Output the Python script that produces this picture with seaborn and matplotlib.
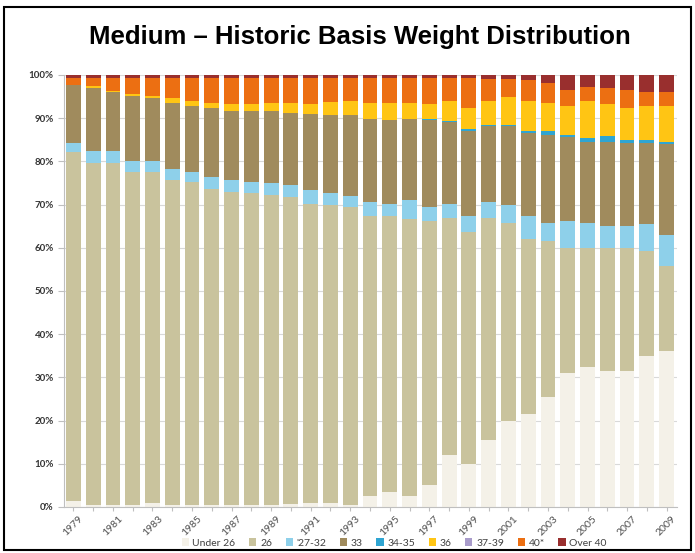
import numpy as np
import matplotlib
matplotlib.use("Agg")
import matplotlib.pyplot as plt
from matplotlib.patches import Patch, Rectangle
import seaborn as sns

# Production years
years = ["1979", "1980", "1981", "1982", "1983", "1984", "1985", "1986",
         "1987", "1988", "1989", "1990", "1991", "1992", "1993", "1994",
         "1995", "1996", "1997", "1998", "1999", "2000", "2001", "2002",
         "2003", "2004", "2005", "2006", "2007", "2008", "2009"]

# Share of production (%) by basis weight class
under_26 = [1.5, 0.5, 0.5, 0.5, 1.0, 0.5, 0.5, 0.5, 0.5, 0.5, 0.5, 0.8, 1.0, 1.0, 0.5, 2.5,
            3.5, 2.5, 5.0, 12.0, 10.0, 15.5, 20.0, 21.5, 25.5, 31.0, 32.5, 31.5, 31.5, 35.0, 36.0]
bw_26 = [80.6, 79.2, 79.2, 77.1, 76.5, 75.1, 74.7, 73.2, 72.4, 72.2, 71.8, 70.9, 69.2, 68.8, 68.9, 64.9,
         63.9, 64.1, 61.1, 55.0, 53.7, 51.5, 45.7, 40.5, 36.1, 29.0, 27.5, 28.5, 28.5, 24.2, 19.9]
bw_27_32 = [2.1, 2.8, 2.7, 2.6, 2.7, 2.7, 2.4, 2.7, 2.7, 2.6, 2.7, 2.8, 3.2, 2.9, 2.5, 3.3,
            2.8, 4.5, 3.3, 3.2, 3.7, 3.7, 4.1, 5.4, 4.1, 6.2, 5.8, 5.0, 5.0, 6.2, 7.0]
bw_33 = [13.5, 14.4, 13.7, 15.0, 14.5, 15.3, 15.2, 16.0, 16.1, 16.4, 16.6, 16.6, 17.5, 18.0, 18.8, 19.2,
         19.3, 18.8, 20.1, 18.9, 19.6, 17.6, 18.5, 19.2, 20.5, 19.5, 18.8, 19.6, 19.2, 18.8, 21.1]
bw_34_35 = [0.0, 0.0, 0.0, 0.0, 0.0, 0.0, 0.0, 0.0, 0.0, 0.0, 0.0, 0.0, 0.0, 0.0, 0.0, 0.0,
            0.0, 0.0, 0.3, 0.2, 0.5, 0.2, 0.2, 0.4, 0.8, 0.5, 0.8, 1.2, 0.8, 0.8, 0.6]
bw_36 = [0.0, 0.5, 0.3, 0.5, 0.5, 1.0, 1.2, 1.2, 1.6, 1.7, 1.9, 2.5, 2.5, 3.1, 3.3, 3.7,
         4.1, 3.7, 3.4, 4.7, 4.9, 5.5, 6.3, 7.0, 6.6, 6.6, 8.6, 7.4, 7.4, 7.8, 8.2]
bw_37_39 = [0.0] * 31
bw_40 = [1.6, 1.9, 2.9, 3.6, 4.1, 4.7, 5.3, 5.7, 6.0, 5.9, 5.8, 5.7, 5.9, 5.5, 5.3, 5.6,
         5.6, 5.6, 6.0, 5.2, 6.8, 5.0, 4.2, 4.8, 4.5, 3.7, 3.3, 3.7, 4.1, 3.3, 3.3]
over_40 = [0.7, 0.7, 0.7, 0.7, 0.7, 0.7, 0.7, 0.7, 0.7, 0.7, 0.7, 0.7, 0.7, 0.7, 0.7, 0.8,
           0.8, 0.8, 0.8, 0.8, 0.8, 1.0, 1.0, 1.2, 1.9, 3.5, 2.7, 3.1, 3.5, 3.9, 3.9]

labels = ["Under 26", "26", "'27-32", "33", "34-35", "36", "37-39", "40*", "Over 40"]
colors = ["#F4F1E8", "#C9C39D", "#8ED0EA", "#A08B5D", "#2FA5D2",
          "#FFC514", "#A99CCB", "#EC6F12", "#992F2E"]
values = [under_26, bw_26, bw_27_32, bw_33, bw_34_35, bw_36, bw_37_39, bw_40, over_40]

sns.set_theme(style="white")
plt.rcParams["font.family"] = ["Lato", "DejaVu Sans"]

fig = plt.figure(figsize=(6.95, 5.53), dpi=100)
ax = fig.add_axes([63.5 / 695, 46 / 553, 613 / 695, 432 / 553])

# Stack: draw cumulative totals from the top class down so each layer shows its share
tops = np.cumsum(np.array(values), axis=0)
for top, color in reversed(list(zip(tops, colors))):
    sns.barplot(x=years, y=top, color=color, width=0.75, saturation=1,
                linewidth=0, ax=ax, zorder=2)

ax.set_xlim(-0.5, len(years) - 0.5)
ax.set_ylim(0, 100)
ax.set_axisbelow(True)
ax.yaxis.grid(True, color="#D9D9D9", lw=0.8)
ax.xaxis.grid(False)

ax.set_yticks(np.arange(0, 101, 10))
ax.set_yticklabels([f"{v}%" for v in range(0, 101, 10)], fontsize=7,
                   fontweight="bold", color="#333333")
ax.set_xticks(range(len(years)))
ax.set_xticklabels([y if i % 2 == 0 else "" for i, y in enumerate(years)],
                   rotation=45, ha="center", fontsize=7.5, color="#505050")
ax.tick_params(axis="y", left=True, length=4, width=0.8, color="#BFBFBF", pad=3)
ax.tick_params(axis="x", bottom=True, length=3, width=0.8, color="#BFBFBF", pad=2)
ax.set_xlabel("")
ax.set_ylabel("")
for side in ("top", "right"):
    ax.spines[side].set_visible(False)
for side in ("left", "bottom"):
    ax.spines[side].set_color("#BFBFBF")
    ax.spines[side].set_linewidth(0.8)

handles = [Patch(facecolor=c, edgecolor="none") for c in colors]
fig.legend(handles, labels, loc="center", bbox_to_anchor=(0.567, 0.018), ncol=9,
           frameon=False, fontsize=7.5, handlelength=0.7, handleheight=0.7,
           handletextpad=0.35, columnspacing=1.3, labelcolor="#404040",
           borderpad=0.1)

fig.text(0.518, 1 - 37 / 553, "Medium \u2013 Historic Basis Weight Distribution",
         ha="center", va="center", fontsize=18.5, fontweight="bold",
         color="black", family=["Liberation Sans", "DejaVu Sans"])

fig.add_artist(Rectangle((4 / 695, 3 / 553), 687 / 695, 543 / 553,
                         transform=fig.transFigure, fill=False,
                         edgecolor="black", lw=1.5))

fig.savefig("out.png", dpi=100)
